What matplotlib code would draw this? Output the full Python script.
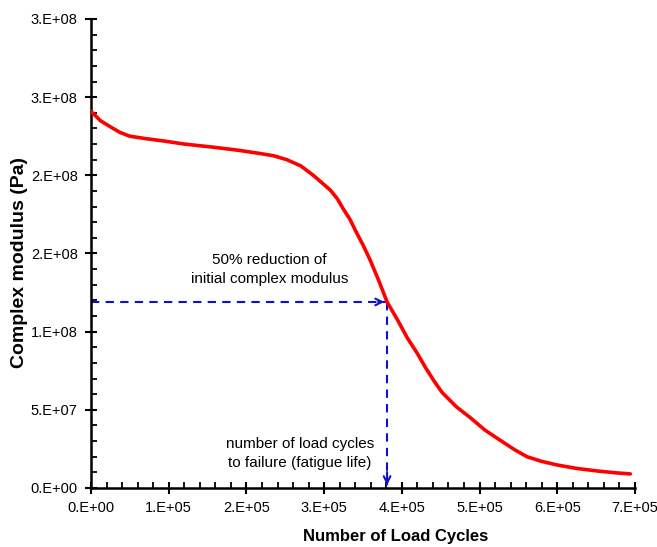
import numpy as np
import matplotlib.pyplot as plt
from matplotlib.ticker import MultipleLocator, FixedLocator

plt.rcParams['font.family'] = ['Liberation Sans', 'DejaVu Sans']

# 读取图中的数据点 (载荷次数, 复数模量 Pa)
cycles = np.array([0.0, 0.05, 0.12, 0.25, 0.37, 0.5, 0.7, 0.93, 1.2, 1.57, 1.9, 2.17,
                   2.35, 2.52, 2.7, 2.86, 3.0, 3.08, 3.17, 3.24, 3.33, 3.42, 3.5, 3.59,
                   3.7, 3.81, 3.95, 4.07, 4.2, 4.3, 4.42, 4.52, 4.7, 4.88, 5.07, 5.26,
                   5.45, 5.61, 5.8, 6.0, 6.25, 6.51, 6.75, 6.94]) * 1e5
modulus = np.array([2.41, 2.385, 2.35, 2.31, 2.275, 2.25, 2.235, 2.22, 2.20, 2.18, 2.16, 2.14,
                    2.125, 2.10, 2.06, 2.00, 1.94, 1.905, 1.85, 1.79, 1.72, 1.63, 1.555, 1.46,
                    1.33, 1.19, 1.07, 0.96, 0.86, 0.774, 0.68, 0.61, 0.52, 0.45, 0.37, 0.307,
                    0.245, 0.20, 0.17, 0.147, 0.125, 0.109, 0.097, 0.09]) * 1e8

fatigue_life = 3.81e5
half_modulus = 1.19e8

y_ticks = [0, 5e7, 1e8, 1.5e8, 2e8, 2.5e8, 3e8]
y_labels = ['0.E+00', '5.E+07', '1.E+08', '2.E+08', '2.E+08', '3.E+08', '3.E+08']
x_ticks = [0, 1e5, 2e5, 3e5, 4e5, 5e5, 6e5, 7e5]
x_labels = ['0.E+00', '1.E+05', '2.E+05', '3.E+05', '4.E+05', '5.E+05', '6.E+05', '7.E+05']

fig = plt.figure(figsize=(6.57, 5.47), dpi=100)
ax = fig.add_axes([0.1385, 0.1079, 0.828, 0.8574])

ax.plot(cycles, modulus, color='#ff0000', lw=2.6, solid_capstyle='round', zorder=3)

# 蓝色虚线箭头
blue = '#1010cc'
ax.plot([0, fatigue_life], [half_modulus, half_modulus], color=blue, ls=(0, (4, 3)), lw=1.5)
ax.plot([fatigue_life, fatigue_life], [half_modulus, 0], color=blue, ls=(0, (4, 3)), lw=1.5)
ax.annotate('', xy=(fatigue_life, half_modulus), xytext=(fatigue_life - 0.15e5, half_modulus),
            arrowprops=dict(arrowstyle='->', color=blue, lw=1.5, mutation_scale=12))
ax.annotate('', xy=(fatigue_life, 0), xytext=(fatigue_life, 0.12e8),
            arrowprops=dict(arrowstyle='->', color=blue, lw=1.5, mutation_scale=12))

ax.text(2.3e5, 1.4e8, '50% reduction of\ninitial complex modulus', ha='center', va='center',
        fontsize=11, linespacing=1.45)
ax.text(2.69e5, 0.22e8, 'number of load cycles\nto failure (fatigue life)', ha='center', va='center',
        fontsize=11, linespacing=1.45)

ax.set_xlim(0, 7e5)
ax.set_ylim(0, 3e8)
ax.xaxis.set_major_locator(FixedLocator(x_ticks))
ax.set_xticklabels(x_labels)
ax.yaxis.set_major_locator(FixedLocator(y_ticks))
ax.set_yticklabels(y_labels)
ax.xaxis.set_minor_locator(MultipleLocator(2e4))
ax.yaxis.set_minor_locator(MultipleLocator(1e7))

for side in ['top', 'right']:
    ax.spines[side].set_visible(False)
for side in ['left', 'bottom']:
    ax.spines[side].set_linewidth(1.8)
    ax.spines[side].set_color('black')

ax.tick_params(which='major', direction='inout', length=9, width=1.5, labelsize=10.5, pad=5)
ax.tick_params(which='minor', direction='in', length=4, width=1.3)

ax.set_xlabel('Number of Load Cycles', fontsize=12, fontweight='bold')
ax.xaxis.set_label_coords(0.56, -0.088)
ax.set_ylabel('Complex modulus (Pa)', fontsize=14, fontweight='bold')
ax.yaxis.set_label_coords(-0.115, 0.48)

fig.savefig('out.png', dpi=100)
